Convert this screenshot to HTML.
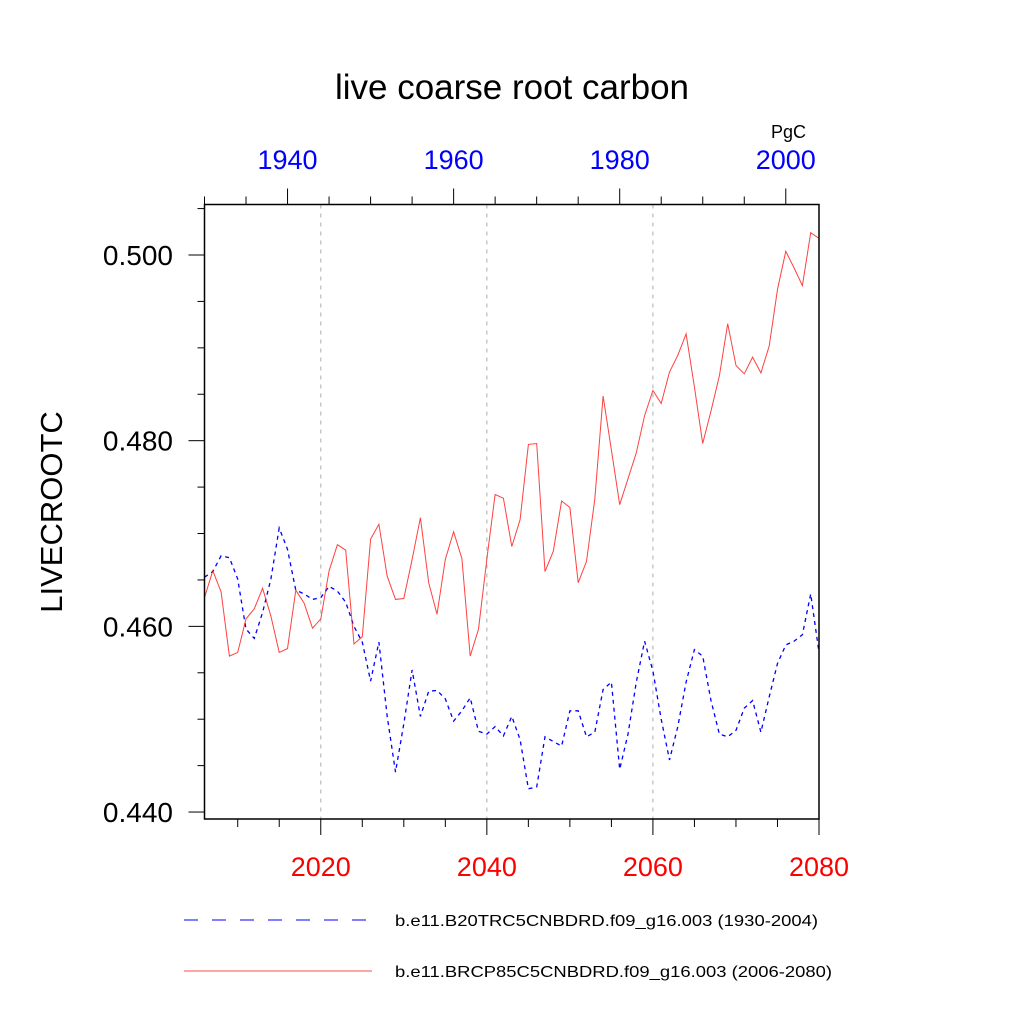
<!DOCTYPE html>
<html><head><meta charset="utf-8"><style>
body{margin:0;background:#fff}
svg text{font-family:"Liberation Sans",sans-serif}
</style></head><body>
<svg id="chart" width="1024" height="1024" viewBox="0 0 1024 1024" xmlns="http://www.w3.org/2000/svg">
<rect width="1024" height="1024" fill="#fff"/>
<text x="512" y="99" font-size="35" text-anchor="middle">live coarse root carbon</text>
<text x="806" y="138" font-size="18" text-anchor="end">PgC</text>
<text transform="translate(62,512) rotate(-90)" font-size="31" text-anchor="middle">LIVECROOTC</text>
<g id="grid"></g><g id="series"></g><g id="axes"></g>
<line x1="184" y1="920" x2="372" y2="920" stroke="#00f" stroke-width="1" stroke-dasharray="14,14"/>
<text x="395" y="926" font-size="16" textLength="423" lengthAdjust="spacingAndGlyphs">b.e11.B20TRC5CNBDRD.f09_g16.003 (1930-2004)</text>
<line x1="184" y1="971" x2="372" y2="971" stroke="#f00" stroke-width="1" opacity="0.7"/>
<text x="395" y="977" font-size="16" textLength="437" lengthAdjust="spacingAndGlyphs">b.e11.BRCP85C5CNBDRD.f09_g16.003 (2006-2080)</text>
</svg>
<script>
const redValues=[.4631,.4660,.4637,.4568,.4572,.4608,.4619,.4641,.4611,.4572,.4576,.4639,.4625,.4598,.4608,.4660,.4688,.4682,.4581,.4589,.4694,.4710,.4654,.4629,.4630,.4672,.4717,.4647,.4613,.4672,.4702,.4673,.4568,.4597,.4672,.4742,.4738,.4686,.4715,.4796,.4797,.4659,.4681,.4735,.4728,.4647,.4670,.4737,.4848,.4790,.4731,.4759,.4787,.4827,.4854,.4840,.4874,.4892,.4915,.4858,.4797,.4832,.4870,.4926,.4881,.4872,.4890,.4873,.4902,.4963,.5004,.4986,.4967,.5024,.5018];
const blueValues=[.4653,.4659,.4676,.4674,.4651,.4597,.4587,.4615,.4651,.4706,.4683,.4639,.4635,.4629,.4631,.4643,.4638,.4626,.4600,.4583,.4541,.4583,.4503,.4443,.4495,.4553,.4503,.4530,.4531,.4522,.4498,.4509,.4523,.4487,.4484,.4492,.4482,.4503,.4478,.4425,.4427,.4481,.4476,.4471,.4509,.4509,.4481,.4486,.4532,.4540,.4446,.4484,.4540,.4584,.4552,.4500,.4456,.4492,.4540,.4575,.4568,.4520,.4484,.4481,.4488,.4512,.4520,.4486,.4524,.4560,.4580,.4584,.4591,.4635,.4572];
const redStartYear=2006;
const blueStartYear=1930;
const bottomTicks=[2020,2040,2060,2080];
const topTicks=[1940,1960,1980,2000];
const yTicks=[0.44,0.46,0.48,0.50];
const yTickLabels=["0.440","0.460","0.480","0.500"];

const L=204.5,R=819,T=204.5,B=819;
const x0=2006,x1=2080,y0=0.43925,y1=0.50544;
const xs=v=>L+(v-x0)/(x1-x0)*(R-L);
const xsTop=v=>L+(v-1930)/(x1-x0)*(R-L);
const ys=v=>B-(v-y0)/(y1-y0)*(B-T);
const NS='http://www.w3.org/2000/svg';
function mk(tag,attrs,parent,txt){const e=document.createElementNS(NS,tag);for(const k in attrs)e.setAttribute(k,attrs[k]);if(txt!==undefined)e.textContent=txt;parent.appendChild(e);return e;}
const grid=document.getElementById('grid'),ser=document.getElementById('series'),ax=document.getElementById('axes');
[2020,2040,2060].forEach(t=>{const g=mk('line',{x1:xs(t),y1:T,x2:xs(t),y2:B,stroke:'#bbb','stroke-width':1.2,'stroke-dasharray':'4,5'},grid);

});
const bp=blueValues.map((v,i)=>xsTop(blueStartYear+i).toFixed(1)+','+ys(v).toFixed(1)).join(' ');
const bl=mk('polyline',{points:bp,fill:'none',stroke:'#00f','stroke-width':1.3,'stroke-dasharray':'4,4'},ser);


const rp=redValues.map((v,i)=>xs(redStartYear+i).toFixed(1)+','+ys(v).toFixed(1)).join(' ');
const rl=mk('polyline',{points:rp,fill:'none',stroke:'#f00','stroke-width':1,opacity:0.75},ser);


const fr=mk('rect',{x:L,y:T,width:R-L,height:B-T,fill:'none',stroke:'#000','stroke-width':1.5},ax);


for(let v=0.44;v<=0.5051;v+=0.005){const maj=Math.round(v*1000)%20===0;
mk('line',{x1:L-(maj?16:7),y1:ys(v),x2:L,y2:ys(v),stroke:'#000','stroke-width':1},ax);}
yTicks.forEach((v,i)=>{const t=mk('text',{x:173,y:ys(v)+10,'font-size':28,'text-anchor':'end'},ax,yTickLabels[i]);

});
for(let yr=2010;yr<=2080;yr+=5){const maj=yr%20===0;mk('line',{x1:xs(yr),y1:B,x2:xs(yr),y2:B+(maj?16:8),stroke:'#000','stroke-width':1},ax);}
bottomTicks.forEach(v=>{const t=mk('text',{x:xs(v),y:876,'font-size':27,'text-anchor':'middle',fill:'#f00'},ax,String(v));

});
for(let yr=1930;yr<=2004;yr+=5){const maj=yr%20===0;mk('line',{x1:xsTop(yr),y1:T,x2:xsTop(yr),y2:T-(maj?16:8),stroke:'#000','stroke-width':1},ax);}
topTicks.forEach(v=>{const t=mk('text',{x:xsTop(v),y:169,'font-size':27,'text-anchor':'middle',fill:'#00f'},ax,String(v));

});
</script>
</body></html>
